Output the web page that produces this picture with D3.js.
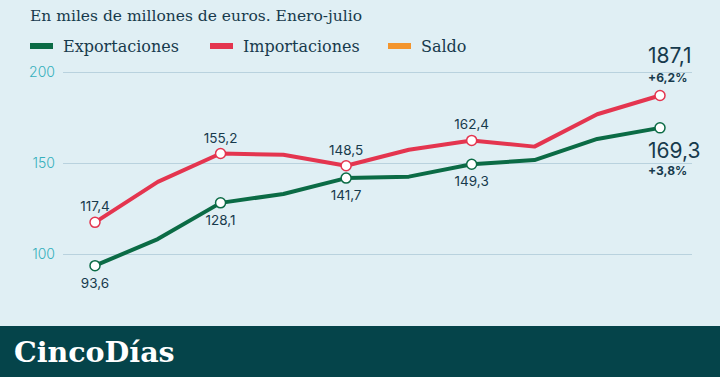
<!DOCTYPE html>
<html>
<head>
<meta charset="utf-8">
<script src="https://cdn.jsdelivr.net/npm/d3@7"></script>
<style>
  body { margin: 0; background: #e0eff4; }
  svg { display: block; }
</style>
</head>
<body>
<div id="canvas"></div>
<script>
"use strict"

/* Data */
let years = [2014, 2015, 2016, 2017, 2018, 2019, 2020, 2021, 2022, 2023];
let exportaciones = [93.6, 108.2, 128.1, 133.0, 141.7, 142.5, 149.3, 151.6, 163.2, 169.3];
let importaciones = [117.4, 139.6, 155.2, 154.5, 148.5, 157.3, 162.4, 159.0, 176.8, 187.1];
let labeledIdx = [0, 2, 4, 6];
let yTicks = [100, 150, 200];
let legendNames = ["Exportaciones", "Importaciones", "Saldo"];
let lastChange = { exp: "+3,8%", imp: "+6,2%" };

/* Drawing config */
let svgWidth = 720;
let svgHeight = 377;
let green = "#0b6b45";
let red = "#e4354f";
let orange = "#f3952d";
let ink = "#173a4c";

let svg = d3.select("#canvas")
    .append("svg")
    .attr("width", svgWidth)
    .attr("height", svgHeight);

svg.append("rect")
    .attr("width", svgWidth)
    .attr("height", svgHeight)
    .attr("fill", "#e0eff4");

let fmt = v => String(v.toFixed(1)).replace(".", ",");

/* Scales */
let xScale = d3.scalePoint()
    .domain(years)
    .range([95, 660]);

let yScale = d3.scaleLinear()
    .domain([100, 200])
    .range([254, 72]);

/* Title */
svg.append("text")
    .attr("x", 30)
    .attr("y", 21)
    .attr("font-family", "DejaVu Serif")
    .attr("font-size", 15.5)
    .attr("fill", ink)
    .text("En miles de millones de euros. Enero-julio");

/* Legend */
let legendX = [30, 210, 388];
let legendColors = [green, red, orange];
let legend = svg.selectAll("g.legend")
    .data(legendNames)
    .join("g")
    .attr("class", "legend")
    .attr("transform", (d, i) => "translate(" + legendX[i] + ",0)");

legend.append("rect")
    .attr("x", 0)
    .attr("y", 43)
    .attr("width", 23)
    .attr("height", 6)
    .attr("fill", (d, i) => legendColors[i]);

legend.append("text")
    .attr("x", 33)
    .attr("y", 52)
    .attr("font-family", "DejaVu Serif")
    .attr("font-size", 16)
    .attr("fill", ink)
    .text(d => d);

/* Grid + y ticks */
let yAxis = d3.axisLeft(yScale)
    .tickValues(yTicks)
    .tickSize(-(692 - 63))
    .tickPadding(8)
    .tickFormat(d => d);

let gy = svg.append("g")
    .attr("transform", "translate(63,0)")
    .call(yAxis);
gy.select(".domain").remove();
gy.selectAll(".tick line")
    .attr("stroke", "#b9d2de")
    .attr("stroke-width", 1.2);
gy.selectAll(".tick text")
    .attr("font-family", "Inter")
    .attr("font-size", 14)
    .attr("font-weight", 300)
    .attr("fill", "#35afbc");

/* Lines */
let line = d3.line()
    .x((d, i) => xScale(years[i]))
    .y(d => yScale(d));

let series = [
    { values: importaciones, color: red, above: true },
    { values: exportaciones, color: green, above: false }
];

series.forEach(s => {
    svg.append("path")
        .datum(s.values)
        .attr("d", line)
        .attr("fill", "none")
        .attr("stroke", s.color)
        .attr("stroke-width", 4)
        .attr("stroke-linejoin", "round");

    let marked = labeledIdx.concat([years.length - 1]);
    svg.selectAll(null)
        .data(marked)
        .join("circle")
        .attr("cx", i => xScale(years[i]))
        .attr("cy", i => yScale(s.values[i]))
        .attr("r", 5)
        .attr("fill", "white")
        .attr("stroke", s.color)
        .attr("stroke-width", 1.5);

    svg.selectAll(null)
        .data(labeledIdx)
        .join("text")
        .attr("x", i => xScale(years[i]))
        .attr("y", i => yScale(s.values[i]) + (s.above ? -11 : 22))
        .attr("text-anchor", "middle")
        .attr("font-family", "Inter")
        .attr("font-size", 13.5)
        .attr("fill", ink)
        .text(i => fmt(s.values[i]));
});

/* Last values */
let last = years.length - 1;
let lastX = xScale(years[last]) - 12;

svg.append("text")
    .attr("x", lastX)
    .attr("y", yScale(importaciones[last]) - 32)
    .attr("font-family", "Inter")
    .attr("font-size", 21)
    .attr("fill", ink)
    .text(fmt(importaciones[last]));
svg.append("text")
    .attr("x", lastX)
    .attr("y", yScale(importaciones[last]) - 13)
    .attr("font-family", "Inter")
    .attr("font-size", 12)
    .attr("font-weight", "bold")
    .attr("fill", ink)
    .text(lastChange.imp);

svg.append("text")
    .attr("x", lastX)
    .attr("y", yScale(exportaciones[last]) + 30)
    .attr("font-family", "Inter")
    .attr("font-size", 21)
    .attr("fill", ink)
    .text(fmt(exportaciones[last]));
svg.append("text")
    .attr("x", lastX)
    .attr("y", yScale(exportaciones[last]) + 47)
    .attr("font-family", "Inter")
    .attr("font-size", 12)
    .attr("font-weight", "bold")
    .attr("fill", ink)
    .text(lastChange.exp);

/* Footer band */
svg.append("rect")
    .attr("x", 0)
    .attr("y", 326)
    .attr("width", svgWidth)
    .attr("height", svgHeight - 326)
    .attr("fill", "#05444a");

svg.append("text")
    .attr("x", 14)
    .attr("y", 362)
    .attr("font-family", "DejaVu Serif")
    .attr("font-weight", "bold")
    .attr("font-size", 28.5)
    .attr("fill", "white")
    .text("CincoDías");
</script>
</body>
</html>
